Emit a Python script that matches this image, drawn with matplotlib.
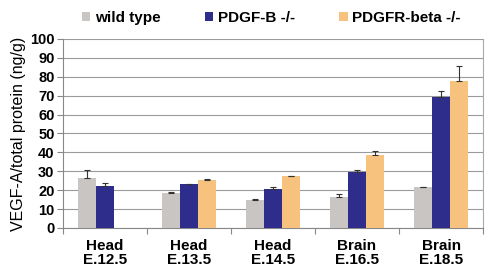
import matplotlib.pyplot as plt
import numpy as np

categories = ['Head\nE.12.5', 'Head\nE.13.5', 'Head\nE.14.5', 'Brain\nE.16.5', 'Brain\nE.18.5']
series_names = ['wild type', 'PDGF-B -/-', 'PDGFR-beta -/-']
wild_type = [26.5, 18.5, 15.0, 16.5, 21.5]
wild_type_err = [4.0, 0.6, 0.5, 1.5, 0.3]
pdgf_b = [22.0, 23.0, 20.5, 29.5, 69.5]
pdgf_b_err = [1.8, 0.3, 1.0, 1.0, 3.0]
pdgfr_beta = [np.nan, 25.5, 27.5, 38.5, 77.5]
pdgfr_beta_err = [0, 0.5, 0.0, 2.0, 8.0]
colors = ['#c9c5c2', '#2f2d8c', '#f7c27d']

plt.rcParams['font.family'] = ['Liberation Sans', 'DejaVu Sans']

fig = plt.figure(figsize=(4.87, 2.76), dpi=100)
ax = fig.add_axes([0.129, 0.174, 0.863, 0.685])

x = np.arange(len(categories))
w = 0.215
data = [(wild_type, wild_type_err), (pdgf_b, pdgf_b_err), (pdgfr_beta, pdgfr_beta_err)]
for i, (vals, errs) in enumerate(data):
    pos = x + (i - 1) * w
    ax.bar(pos, vals, w, color=colors[i], label=series_names[i], zorder=3)
    ax.errorbar(pos, vals, yerr=[np.zeros(len(errs)), errs], fmt='none',
                ecolor='#333333', elinewidth=0.8, capsize=2.5, capthick=0.8, zorder=4)

ax.set_xlim(-0.5, len(categories) - 0.5)
ax.set_ylim(0, 100)
ax.set_yticks(range(0, 101, 10))
ax.yaxis.grid(True, color='#9a9a9a', linewidth=0.8, zorder=0)
ax.set_axisbelow(True)

# ticks between the groups on the x axis
ax.set_xticks(np.arange(-0.5, len(categories), 1.0))
ax.set_xticklabels([])
ax.set_xticks(x, minor=True)
ax.set_xticklabels(categories, minor=True, fontsize=11, fontweight='bold', linespacing=1.0)
ax.tick_params(axis='x', which='minor', length=0, pad=8)
ax.tick_params(axis='x', which='major', length=4, color='#888888')
ax.tick_params(axis='y', labelsize=10.5, length=4, color='#888888', pad=2)
for lbl in ax.get_yticklabels():
    lbl.set_fontweight('bold')

ax.spines['top'].set_visible(False)
ax.spines['right'].set_color('#aaaaaa')
ax.spines['left'].set_color('#888888')
ax.spines['bottom'].set_color('#888888')

ax.set_ylabel('VEGF-A/total protein (ng/g)', fontsize=11.5, labelpad=3)

leg = fig.legend(loc='upper left', bbox_to_anchor=(0.14, 1.01), ncol=3, frameon=False,
                 fontsize=11, handlelength=0.55, handleheight=0.55, handletextpad=0.3,
                 columnspacing=2.9)
for t in leg.get_texts():
    t.set_fontweight('bold')

fig.savefig('out.png', dpi=100)
